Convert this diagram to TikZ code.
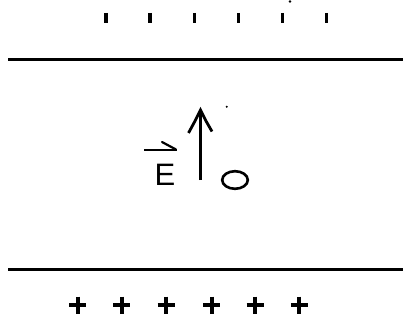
\documentclass[tikz,border=0pt]{standalone}
\usepackage{fontspec}
\setmainfont{Liberation Sans}
\begin{document}
\begin{tikzpicture}[x=1pt,y=-1pt,
  plate/.style={line width=3.2pt},
  negmark/.style={line width=3.2pt},
  posmark/.style={line width=4pt},
  field/.style={line width=2.8pt}]
\useasboundingbox (0,0) rectangle (403,321);
% plates
\draw[plate] (8,59.5) -- (403,59.5);
\draw[plate] (8,269.5) -- (403,269.5);
% negative charges (top)
\foreach \x in {106,150,194.3,238.7,282.3,326.7}
  \draw[negmark] (\x,13) -- (\x,23);
\fill (290,1.5) circle (1.3);
% positive charges (bottom)
\foreach \x in {77.5,121.7,166,211.7,255,299.3} {
  \draw[posmark] (\x-8.5,305) -- (\x+8.5,305);
  \draw[posmark] (\x,296.5) -- (\x,313.5);
}
% field arrow
\coordinate (tail) at (200.5,180);
\coordinate (tip) at (200.5,110);
\draw[field] (tail) -- (tip);
\draw[field,line join=miter] (188.5,133) -- (195,121) -- (tip) -- (206,121) -- (212,131.5);
% E label with vector sign
\node[inner sep=0pt,anchor=base,font=\fontsize{31}{31}\selectfont] (E) at (165,185.5) {E};
\draw[line width=2.2pt] (144,150) -- (177,150);
\draw[line width=2.2pt,line cap=round] (162,142) -- (176,149.5);
% dot and charge
\fill (226.7,106.7) circle (1.1);
\draw[line width=2.6pt] (235,180) ellipse (12.8 and 8.8);
\end{tikzpicture}
\end{document}
